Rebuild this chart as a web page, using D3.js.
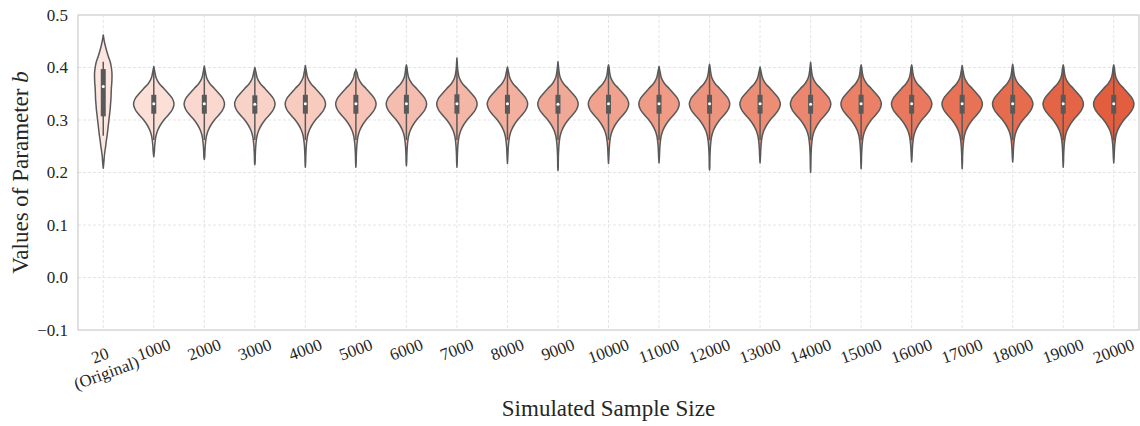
<!DOCTYPE html>
<html>
<head>
<meta charset="utf-8">
<script src="https://cdn.jsdelivr.net/npm/d3@7"></script>
<style>
  html, body { margin: 0; padding: 0; background: #fff; }
  svg text { font-family: "Liberation Serif", "DejaVu Serif", serif; fill: #262626; }
</style>
</head>
<body>
<svg id="chart" width="1140" height="426"></svg>
<script>
// categories on the x axis
const sampleSizes = ["20 (Original)", "1000", "2000", "3000", "4000", "5000", "6000", "7000", "8000", "9000", "10000",
  "11000", "12000", "13000", "14000", "15000", "16000", "17000", "18000", "19000", "20000"];

// per violin summary
const tailLow  = [0.208, 0.230, 0.225, 0.215, 0.210, 0.210, 0.213, 0.210, 0.217, 0.204, 0.217,
  0.218, 0.205, 0.218, 0.200, 0.207, 0.220, 0.207, 0.220, 0.210, 0.218];
const tailHigh = [0.462, 0.402, 0.403, 0.400, 0.404, 0.395, 0.405, 0.418, 0.401, 0.411, 0.405,
  0.402, 0.406, 0.401, 0.410, 0.405, 0.405, 0.404, 0.406, 0.405, 0.405];
const q1     = [0.307, 0.312, 0.312, 0.312, 0.312, 0.312, 0.312, 0.312, 0.312, 0.312, 0.312,
  0.312, 0.312, 0.312, 0.312, 0.312, 0.312, 0.312, 0.312, 0.312, 0.312];
const median = [0.364, 0.331, 0.331, 0.330, 0.331, 0.331, 0.331, 0.331, 0.331, 0.330, 0.331,
  0.331, 0.331, 0.331, 0.330, 0.331, 0.331, 0.331, 0.331, 0.331, 0.331];
const q3     = [0.397, 0.348, 0.348, 0.347, 0.348, 0.348, 0.348, 0.349, 0.348, 0.348, 0.348,
  0.348, 0.348, 0.348, 0.348, 0.348, 0.348, 0.348, 0.348, 0.348, 0.348];
const whiskerLow  = [0.270, 0.262, 0.262, 0.262, 0.262, 0.262, 0.262, 0.262, 0.262, 0.262, 0.262,
  0.262, 0.262, 0.262, 0.262, 0.262, 0.262, 0.262, 0.262, 0.262, 0.262];
const whiskerHigh = [0.411, 0.398, 0.398, 0.398, 0.398, 0.398, 0.398, 0.398, 0.398, 0.398, 0.398,
  0.398, 0.398, 0.398, 0.398, 0.398, 0.398, 0.398, 0.398, 0.398, 0.398];

// density outline (relative half width) on a common value grid
const densityGrid = [0.20, 0.21, 0.22, 0.23, 0.24, 0.25, 0.26, 0.27, 0.28, 0.29, 0.30, 0.31, 0.32, 0.33,
  0.34, 0.35, 0.36, 0.37, 0.38, 0.39, 0.40, 0.41, 0.42, 0.43, 0.44, 0.45, 0.46, 0.47];
const densityOriginal = [0, 0.01, 0.03, 0.05, 0.08, 0.12, 0.15, 0.19, 0.22, 0.25, 0.28, 0.31, 0.34, 0.36,
  0.38, 0.39, 0.40, 0.42, 0.43, 0.43, 0.40, 0.35, 0.26, 0.18, 0.11, 0.05, 0.01, 0];
const densitySimulated = [0.01, 0.012, 0.015, 0.02, 0.03, 0.045, 0.07, 0.11, 0.19, 0.32, 0.5, 0.73, 0.92, 1.0,
  0.93, 0.73, 0.5, 0.26, 0.12, 0.06, 0.03, 0.015, 0.01, 0, 0, 0, 0, 0];

const yTicks = [-0.1, 0.0, 0.1, 0.2, 0.3, 0.4, 0.5];

const W = 1140, H = 426;
const margin = {top: 15, right: 1, bottom: 96, left: 78};
const plotW = W - margin.left - margin.right,
      plotH = H - margin.top - margin.bottom;

const svg = d3.select("#chart");
const g = svg.append("g").attr("transform", "translate(" + margin.left + "," + margin.top + ")");

const x = d3.scaleBand().domain(sampleSizes).range([0, plotW]).padding(0);
const y = d3.scaleLinear().domain([-0.1, 0.5]).range([plotH, 0]);
const halfW = d3.scaleLinear().domain([0, 1]).range([0, x.bandwidth() * 0.4]);
const fillColor = d3.scaleLinear().domain([0, sampleSizes.length - 1])
  .range(["#fde6df", "#e35e3e"]).interpolate(d3.interpolateRgb);
const lineGray = "#595959";

// grid
g.append("g").selectAll("line.hgrid")
  .data(yTicks.slice(1, -1))
  .enter().append("line")
  .attr("x1", 0).attr("x2", plotW)
  .attr("y1", d => y(d)).attr("y2", d => y(d))
  .attr("stroke", "#dedede").attr("stroke-width", 0.8).attr("stroke-dasharray", "3,2");
g.append("g").selectAll("line.vgrid")
  .data(sampleSizes)
  .enter().append("line")
  .attr("x1", d => x(d) + x.bandwidth() / 2).attr("x2", d => x(d) + x.bandwidth() / 2)
  .attr("y1", 0).attr("y2", plotH)
  .attr("stroke", "#dedede").attr("stroke-width", 0.8).attr("stroke-dasharray", "3,2");

// frame
g.append("rect").attr("x", 0).attr("y", 0).attr("width", plotW).attr("height", plotH)
  .attr("fill", "none").attr("stroke", "#cccccc").attr("stroke-width", 1.2);

// y axis labels
const yAxis = d3.axisLeft(y).tickValues(yTicks).tickSize(0).tickPadding(10)
  .tickFormat(d => d3.format(".1f")(d).replace("-", "\u2212"));
g.append("g").call(yAxis)
  .call(s => s.select(".domain").remove())
  .selectAll("text").attr("font-size", 17).attr("fill", "#262626")
  .style("font-family", '"Liberation Serif", serif');

// violins
const area = d3.area()
  .x0(d => -halfW(d.d)).x1(d => halfW(d.d))
  .y(d => y(d.v))
  .curve(d3.curveCatmullRom.alpha(0.5));

sampleSizes.forEach((s, i) => {
  const dens = i === 0 ? densityOriginal : densitySimulated;
  const pts = [{v: tailLow[i], d: 0}];
  densityGrid.forEach((v, k) => {
    if (v > tailLow[i] + 0.004 && v < tailHigh[i] - 0.004) pts.push({v: v, d: dens[k]});
  });
  pts.push({v: tailHigh[i], d: 0});

  const cx = x(s) + x.bandwidth() / 2;
  const vg = g.append("g").attr("transform", "translate(" + cx + ",0)");
  vg.append("path").datum(pts)
    .attr("d", area)
    .attr("fill", fillColor(i))
    .attr("stroke", lineGray).attr("stroke-width", 1.5).attr("stroke-linejoin", "round");
  // whisker
  vg.append("line").attr("x1", 0).attr("x2", 0)
    .attr("y1", y(whiskerLow[i])).attr("y2", y(whiskerHigh[i]))
    .attr("stroke", lineGray).attr("stroke-width", 1.5);
  // interquartile box
  vg.append("line").attr("x1", 0).attr("x2", 0)
    .attr("y1", y(q1[i])).attr("y2", y(q3[i]))
    .attr("stroke", lineGray).attr("stroke-width", 5);
  // median
  vg.append("circle").attr("cx", 0).attr("cy", y(median[i])).attr("r", 1.5).attr("fill", "#ffffff");
});

// x tick labels, rotated
const theta = 20, rad = theta * Math.PI / 180;
sampleSizes.forEach(s => {
  const lines = s === "20 (Original)" ? ["20", "(Original)"] : [s];
  const t = g.append("text")
    .attr("font-size", 17).attr("text-anchor", "middle");
  lines.forEach((ln, k) => {
    t.append("tspan").attr("x", 0).attr("dy", k === 0 ? 0 : "1.1em").text(ln);
  });
  const bb = t.node().getBBox();
  const bcx = bb.x + bb.width / 2, bcy = bb.y + bb.height / 2;
  const rotH = bb.width * Math.sin(rad) + bb.height * Math.cos(rad);
  const cx = x(s) + x.bandwidth() / 2;
  const cy = plotH + 5 + rotH / 2;
  t.attr("transform", "translate(" + cx + "," + cy + ") rotate(" + (-theta) + ") translate(" + (-bcx) + "," + (-bcy) + ")");
});

// axis titles
svg.append("text")
  .attr("x", margin.left + plotW / 2).attr("y", 416)
  .attr("text-anchor", "middle").attr("font-size", 23)
  .text("Simulated Sample Size");

const yl = svg.append("text")
  .attr("transform", "translate(28," + (margin.top + plotH / 2) + ") rotate(-90)")
  .attr("text-anchor", "middle").attr("font-size", 23);
yl.append("tspan").text("Values of Parameter ");
yl.append("tspan").attr("font-style", "italic").text("b");
</script>
</body>
</html>
